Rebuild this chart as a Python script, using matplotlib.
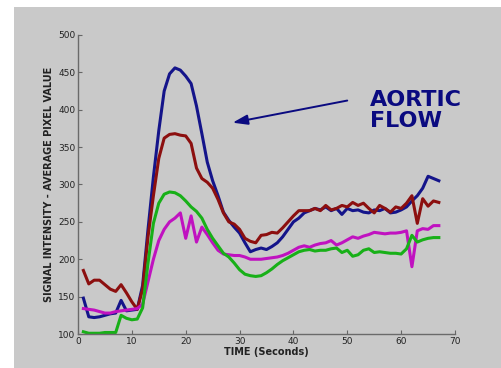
import matplotlib
matplotlib.use("Agg")
import matplotlib.pyplot as plt
from matplotlib.patches import Rectangle

time_s = list(range(1, 68))

blue = [148, 123, 122, 123, 125, 127, 128, 145, 131, 132, 133, 165, 240, 310, 372, 425,
        448, 456, 453, 445, 435, 405, 368, 330, 305, 285, 263, 252, 243, 235, 222, 210,
        213, 215, 213, 217, 222, 230, 240, 250, 255, 262, 265, 268, 266, 270, 265, 268,
        260, 268, 265, 266, 263, 262, 266, 265, 268, 262, 263, 266, 270, 278, 285, 295,
        311, 308, 305]

red = [185, 167, 172, 172, 166, 160, 157, 166, 155, 143, 133, 160, 230, 285, 335, 362,
       367, 368, 366, 365, 355, 322, 308, 303, 295, 280, 262, 250, 247, 240, 228, 224,
       222, 232, 233, 236, 235, 242, 250, 258, 265, 265, 265, 268, 265, 272, 266, 268,
       272, 270, 276, 272, 275, 268, 262, 272, 268, 263, 270, 268, 275, 285, 248, 281,
       271, 278, 276]

magenta = [134, 133, 132, 130, 128, 128, 130, 131, 132, 133, 134, 140, 170, 200, 225, 240,
           250, 255, 262, 228, 258, 223, 243, 233, 222, 212, 207, 206, 205, 205, 203, 200,
           200, 200, 201, 202, 203, 205, 208, 212, 216, 218, 216, 219, 221, 222, 225, 219,
           222, 226, 230, 228, 231, 233, 236, 235, 234, 235, 235, 236, 238, 190, 238, 241,
           240, 245, 245]

green = [103, 101, 101, 101, 102, 102, 102, 125, 121, 119, 120, 135, 195, 248, 275, 287,
         290, 289, 285, 278, 270, 264, 255, 240, 228, 218, 208, 203, 195, 186, 180, 178,
         177, 178, 182, 187, 193, 198, 202, 206, 210, 212, 213, 211, 212, 212, 214, 215,
         209, 212, 204, 206, 212, 214, 209, 210, 209, 208, 208, 207, 214, 232, 223, 226,
         228, 229, 229]

x_ticks = [0, 10, 20, 30, 40, 50, 60, 70]
y_ticks = [100, 150, 200, 250, 300, 350, 400, 450, 500]

W, H = 501, 368
fig = plt.figure(figsize=(W / 100, H / 100), dpi=100)
fig.patch.set_facecolor("white")

bg = fig.add_axes([14 / W, 0, 1 - 14 / W, 1 - 7 / H], zorder=-1)
bg.set_facecolor("#c9c9c9")
bg.set_axis_off()
bg.add_patch(Rectangle((0, 0), 1, 1, transform=bg.transAxes, facecolor="#c9c9c9",
                       edgecolor="none"))

ax = fig.add_axes([78 / W, 1 - 334 / H, (455 - 78) / W, (334 - 35) / H], zorder=1)
ax.set_facecolor("none")

series = [(blue, "#14148a"), (red, "#8c0f0f"), (magenta, "#c012c0"), (green, "#18b018")]
for vals, col in series:
    ax.plot(time_s, vals, color=col, lw=2.2, solid_joinstyle="round")

ax.set_xlim(0, 70)
ax.set_ylim(100, 500)
ax.set_xticks(x_ticks)
ax.set_yticks(y_ticks)
ax.tick_params(direction="in", length=3, width=0.8, color="#666666", labelsize=6.5,
               labelcolor="#222222", pad=2)
for s in ["top", "right"]:
    ax.spines[s].set_visible(False)
for s in ["left", "bottom"]:
    ax.spines[s].set_color("#6a6a6a")
    ax.spines[s].set_linewidth(1.0)

ax.set_xlabel("TIME (Seconds)", fontsize=7, fontweight="bold", color="#222222", labelpad=1)
ax.set_ylabel("SIGNAL INTENSITY - AVERAGE PIXEL VALUE", fontsize=7, fontweight="bold",
              color="#222222", labelpad=3)

ax.annotate("", xy=(28.2, 382), xytext=(50.5, 413),
            arrowprops=dict(arrowstyle="-|>,head_length=0.9,head_width=0.3",
                            color="#0a0a80", lw=1.4))
ax.text(54.2, 427, "AORTIC\nFLOW", fontsize=16, fontweight="bold", color="#0a0a80",
        va="top", ha="left", linespacing=1.1)

fig.savefig("out.png", dpi=100, facecolor=fig.get_facecolor())
